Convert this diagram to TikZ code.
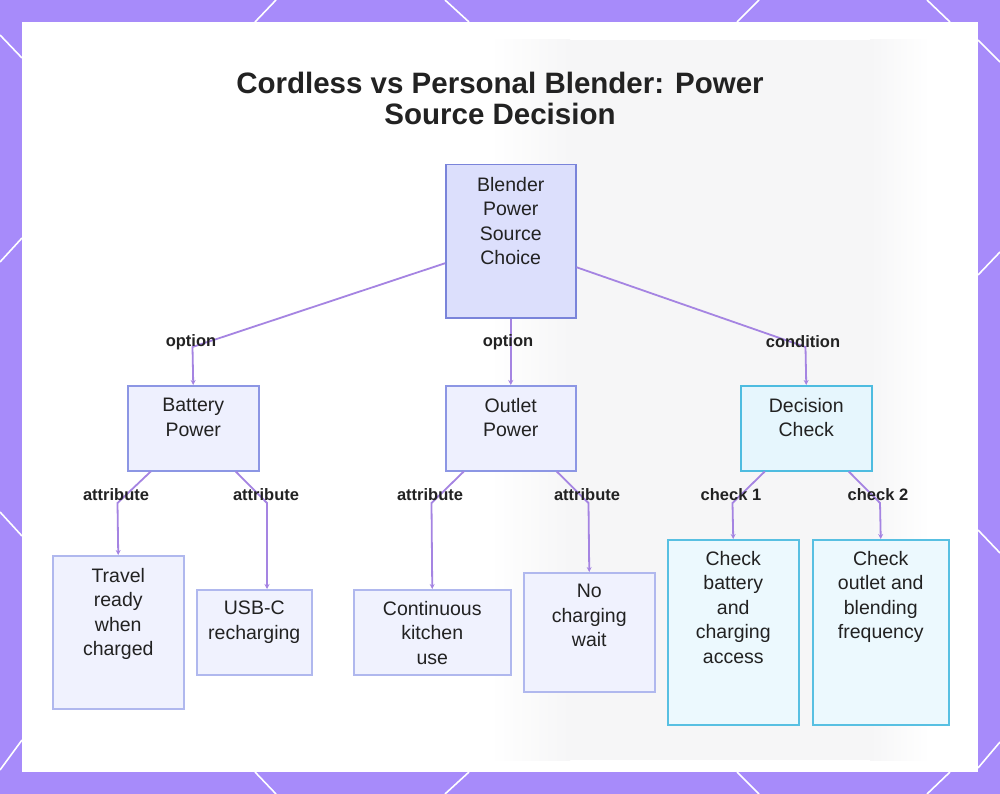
\documentclass[tikz,border=0pt]{standalone}
\usepackage{fontspec}
\setmainfont{Liberation Sans}
\usetikzlibrary{arrows.meta,calc}
\definecolor{frame}{RGB}{167,139,250}
\definecolor{edgec}{RGB}{165,132,226}
\definecolor{ink}{RGB}{34,34,34}
\definecolor{bggray}{RGB}{246,246,247}
\definecolor{rootfill}{RGB}{220,223,252}
\definecolor{rootdraw}{RGB}{122,132,218}
\definecolor{midfill}{RGB}{238,240,254}
\definecolor{middraw}{RGB}{140,150,228}
\definecolor{leaffill}{RGB}{240,242,254}
\definecolor{leafdraw}{RGB}{176,184,238}
\definecolor{decfill}{RGB}{230,246,253}
\definecolor{decdraw}{RGB}{78,188,224}
\definecolor{chkfill}{RGB}{236,249,254}
\definecolor{chkdraw}{RGB}{88,192,226}
\tikzset{
  boxbase/.style={rectangle, inner sep=0pt, line width=1.5pt, anchor=north west},
  rootbox/.style={boxbase, fill=rootfill, draw=rootdraw},
  midbox/.style={boxbase, fill=midfill, draw=middraw},
  leafbox/.style={boxbase, fill=leaffill, draw=leafdraw},
  decbox/.style={boxbase, fill=decfill, draw=decdraw},
  chkbox/.style={boxbase, fill=chkfill, draw=chkdraw},
  txt/.style={anchor=north, align=center, inner sep=0pt, text=ink, font=\fontsize{19.5}{24.5}\selectfont},
  elabel/.style={inner sep=1pt, text=ink, font=\fontsize{16.5}{18}\selectfont\bfseries},
  edge/.style={draw=edgec, line width=1.8pt, -{Stealth[length=5pt,width=5pt]}},
  deco/.style={draw=white, line width=1.6pt}
}
\begin{document}
\begin{tikzpicture}[x=1pt,y=-1pt]
\useasboundingbox (0,0) rectangle (1000,794);
% frame
\fill[frame] (0,0) rectangle (1000,794);
% decorative lattice lines on the frame
\draw[deco] (276,0) -- (255,22);
\draw[deco] (445,0) -- (469,22);
\draw[deco] (759,0) -- (737,22);
\draw[deco] (927,0) -- (950,22);
\draw[deco] (255,772) -- (276,794);
\draw[deco] (469,772) -- (445,794);
\draw[deco] (737,772) -- (759,794);
\draw[deco] (950,772) -- (927,794);
\draw[deco] (0,35) -- (22,58);
\draw[deco] (0,262) -- (22,238);
\draw[deco] (0,512) -- (22,536);
\draw[deco] (0,770) -- (22,740);
\draw[deco] (978,40) -- (1000,62);
\draw[deco] (978,275) -- (1000,252);
\draw[deco] (978,530) -- (1000,553);
\draw[deco] (978,768) -- (1000,742);
% panel
\fill[white] (22,22) rectangle (978,772);
\begin{scope}
\clip (22,22) rectangle (978,772);
\shade[left color=white, right color=bggray] (490,40) rectangle (570,760);
\fill[bggray] (570,40) rectangle (870,760);
\shade[left color=bggray, right color=white] (870,40) rectangle (930,760);
\end{scope}

% title
\node[align=center, text=ink, inner sep=0pt, font=\fontsize{29.5}{31}\selectfont\bfseries] (title) at (500,98) {Cordless vs Personal Blender: Power\\Source Decision};

% boxes
\node[rootbox, minimum width=130pt, minimum height=153pt] (root) at (445,164) {};
\node[txt] (rootT) at ([yshift=-13pt]root.north) {Blender\\Power\\Source\\Choice};

\node[midbox, minimum width=131pt, minimum height=85pt] (battery) at (127,385) {};
\node[txt] (batteryT) at ([yshift=-13pt]battery.north) {Battery\\Power};

\node[midbox, minimum width=130pt, minimum height=85pt] (outlet) at (445,385) {};
\node[txt] (outletT) at ([yshift=-13pt]outlet.north) {Outlet\\Power};

\node[decbox, minimum width=131pt, minimum height=85pt] (decision) at (740,385) {};
\node[txt] (decisionT) at ([yshift=-13pt]decision.north) {Decision\\Check};

\node[leafbox, minimum width=131pt, minimum height=153pt] (travel) at (52,555) {};
\node[txt] (travelT) at ([yshift=-13pt]travel.north) {Travel\\ready\\when\\charged};

\node[leafbox, minimum width=115pt, minimum height=85pt] (usb) at (196,589) {};
\node[txt] (usbT) at ([yshift=-12pt]usb.north) {USB-C\\recharging};

\node[leafbox, minimum width=157pt, minimum height=85pt] (cont) at (353,589) {};
\node[txt] (contT) at ([yshift=-12pt]cont.north) {Continuous\\kitchen\\use};

\node[leafbox, minimum width=131pt, minimum height=119pt] (nocharge) at (523,572) {};
\node[txt] (nochargeT) at ([yshift=-12pt]nocharge.north) {No\\charging\\wait};

\node[chkbox, minimum width=131pt, minimum height=185pt] (chk1) at (667,539) {};
\node[txt] (chk1T) at ([yshift=-12pt]chk1.north) {Check\\battery\\and\\charging\\access};

\node[chkbox, minimum width=136pt, minimum height=185pt] (chk2) at (812,539) {};
\node[txt] (chk2T) at ([yshift=-12pt]chk2.north) {Check\\outlet and\\blending\\frequency};

% bend points
\coordinate (bA) at (192.5,347);
\coordinate (bC) at (805.5,347);
\coordinate (b1) at (117.5,503);
\coordinate (b2) at (267,503);
\coordinate (b3) at (431.5,503);
\coordinate (b4) at (588.5,503);
\coordinate (b5) at (732.5,503);
\coordinate (b6) at (880,503);

% connectors
\draw[edge] ([yshift=-22pt]root.west) -- (bA) -- (battery.north);
\draw[edge] (root.south) -- (outlet.north);
\draw[edge] ([yshift=-26pt]root.east) -- (bC) -- (decision.north);
\draw[edge] ([xshift=-42.5pt]battery.south) -- (b1) -- (travel.north);
\draw[edge] ([xshift=42.5pt]battery.south) -- (b2) -- (b2 |- usb.north);
\draw[edge] ([xshift=-47pt]outlet.south) -- (b3) -- (cont.north);
\draw[edge] ([xshift=46pt]outlet.south) -- (b4) -- (nocharge.north);
\draw[edge] ([xshift=-41.5pt]decision.south) -- (b5) -- (chk1.north);
\draw[edge] ([xshift=42.5pt]decision.south) -- (b6) -- (chk2.north);

% edge labels
\node[elabel] (lA) at (191,342) {option};
\node[elabel] (lB) at (508,342) {option};
\node[elabel] (lC) at (803,342) {condition};
\node[elabel] (l1) at (116,495) {attribute};
\node[elabel] (l2) at (266,495) {attribute};
\node[elabel] (l3) at (430,495) {attribute};
\node[elabel] (l4) at (587,495) {attribute};
\node[elabel] (l5) at (731,495) {check 1};
\node[elabel] (l6) at (878,495) {check 2};
\end{tikzpicture}
\end{document}
